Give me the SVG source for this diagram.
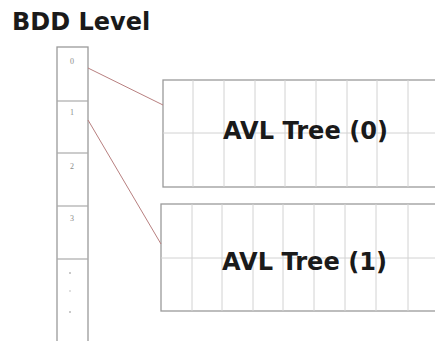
<svg xmlns="http://www.w3.org/2000/svg" width="435" height="341" viewBox="0 0 435 341">
  <style>
    .frame { fill: #ffffff; stroke: #9a9a9a; stroke-width: 1.3; }
    .grid { stroke: #d2d2d2; stroke-width: 1; fill: none; }
    .cell { stroke: #aaaaaa; stroke-width: 1.2; fill: none; }
    .idx { font-family: "Liberation Serif", serif; font-size: 8px; fill: #8a8a8a; text-anchor: middle; }
    .dot { fill: #b8b8b8; }
    .title { font-family: "DejaVu Sans", sans-serif; font-weight: bold; font-size: 24px; fill: #1a1a1a; }
    .label { font-family: "DejaVu Sans", sans-serif; font-weight: bold; font-size: 25px; fill: #1a1a1a; }
    .link { stroke: #b88080; stroke-width: 1; fill: none; }
  </style>
  <rect width="435" height="341" fill="#ffffff"/>

  <text class="title" x="12" y="30">BDD Level</text>

  <!-- level table -->
  <g id="levels">
    <rect class="frame" x="57" y="47" width="31" height="300"/>
    <line class="cell" x1="57" y1="101" x2="88" y2="101"/>
    <line class="cell" x1="57" y1="153" x2="88" y2="153"/>
    <line class="cell" x1="57" y1="206" x2="88" y2="206"/>
    <line class="cell" x1="57" y1="259" x2="88" y2="259"/>
    <text class="idx" x="72" y="64">0</text>
    <text class="idx" x="72" y="115">1</text>
    <text class="idx" x="72" y="169">2</text>
    <text class="idx" x="72" y="221">3</text>
    <circle class="dot" cx="70" cy="273" r="1"/>
    <circle class="dot" cx="70" cy="291" r="0.8"/>
    <circle class="dot" cx="70" cy="312" r="1"/>
  </g>

  <!-- AVL tree for level 0 -->
  <g id="avl0">
    <rect class="frame" x="163" y="80" width="290" height="107"/>
    <line class="grid" x1="163" y1="133" x2="440" y2="133"/>
    <line class="grid" x1="193" y1="80" x2="193" y2="187"/>
    <line class="grid" x1="224" y1="80" x2="224" y2="187"/>
    <line class="grid" x1="255" y1="80" x2="255" y2="187"/>
    <line class="grid" x1="285" y1="80" x2="285" y2="187"/>
    <line class="grid" x1="316" y1="80" x2="316" y2="187"/>
    <line class="grid" x1="347" y1="80" x2="347" y2="187"/>
    <line class="grid" x1="377" y1="80" x2="377" y2="187"/>
    <line class="grid" x1="408" y1="80" x2="408" y2="187"/>
    <text class="label" x="223" y="139" textLength="165" lengthAdjust="spacingAndGlyphs">AVL Tree (0)</text>
  </g>

  <!-- AVL tree for level 1 -->
  <g id="avl1">
    <rect class="frame" x="161" y="204" width="290" height="107"/>
    <line class="grid" x1="161" y1="258" x2="440" y2="258"/>
    <line class="grid" x1="192" y1="204" x2="192" y2="311"/>
    <line class="grid" x1="222" y1="204" x2="222" y2="311"/>
    <line class="grid" x1="253" y1="204" x2="253" y2="311"/>
    <line class="grid" x1="283" y1="204" x2="283" y2="311"/>
    <line class="grid" x1="314" y1="204" x2="314" y2="311"/>
    <line class="grid" x1="345" y1="204" x2="345" y2="311"/>
    <line class="grid" x1="376" y1="204" x2="376" y2="311"/>
    <line class="grid" x1="408" y1="204" x2="408" y2="311"/>
    <text class="label" x="222" y="270" textLength="165" lengthAdjust="spacingAndGlyphs">AVL Tree (1)</text>
  </g>

  <!-- level-to-tree pointers -->
  <g id="connectors">
    <line class="link" x1="88" y1="68" x2="163" y2="105"/>
    <line class="link" x1="88" y1="120" x2="161" y2="244"/>
  </g>
</svg>
